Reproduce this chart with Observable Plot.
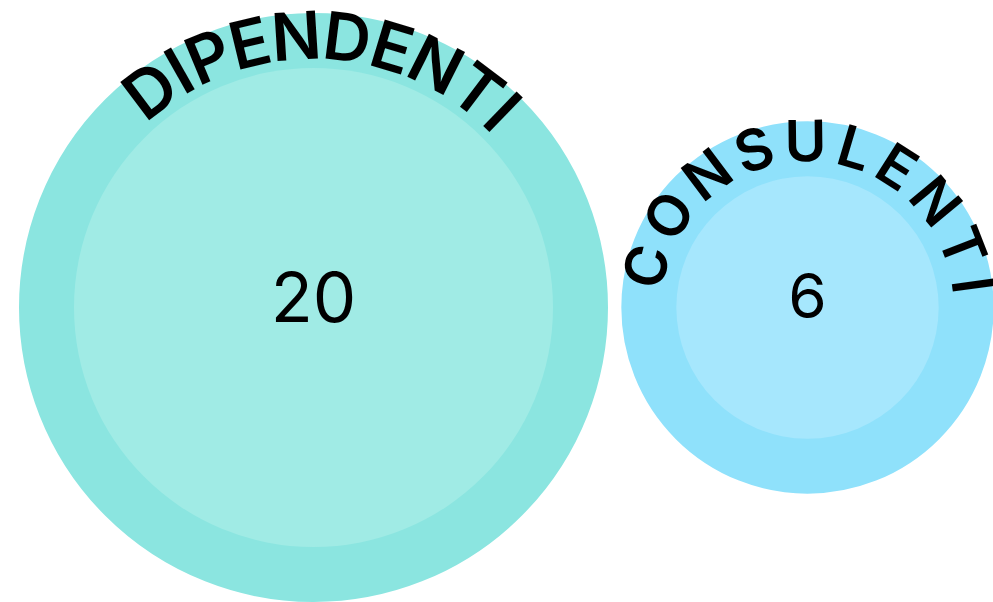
<!DOCTYPE html>
<html><head><meta charset="utf-8">
<script src="https://cdn.jsdelivr.net/npm/d3@7"></script>
<script src="https://cdn.jsdelivr.net/npm/@observablehq/plot@0.6"></script>
<style>html,body{margin:0;padding:0;background:#fff;} #chart svg{display:block;overflow:visible}</style>
</head><body><div id="chart"></div>
<script>
// ---- data ----
const categories = ["DIPENDENTI", "CONSULENTI"];
const values = [20, 6];
const outerColors = ["#8be5e0", "#8fe1fb"];
const innerColors = ["#a0ebe5", "#a6e7fd"];

const data = categories.map((name, i) => ({name, value: values[i], outer: outerColors[i], inner: innerColors[i]}));

// ---- layout / style ----
const W = 993, H = 602;
const band = 55;
const FONT = "Inter";
const labelStyle = [
  {fontSize: 66, weight: 600, span: 88, center: 2, numSize: 69, numDy: -8},
  {fontSize: 57, weight: 600, span: 168, center: 1, numSize: 62, numDy: -9}
];
const rScale = Plot.scale({r: {domain: [0, 20], range: [0, 239.5]}});

const ctx = document.createElement("canvas").getContext("2d");

const marks = [
  Plot.dot(data, {x: "name", r: "value", fill: "outer", stroke: "outer", strokeWidth: band * 2}),
  Plot.dot(data, {x: "name", r: "value", fill: "inner"})
];

data.forEach((d, i) => {
  const st = labelStyle[i];
  marks.push(Plot.text([d], {
    x: "name", text: e => String(e.value), fontSize: st.numSize, fontWeight: 400,
    lineAnchor: "middle", textAnchor: "middle", dy: st.numDy, fill: "black"
  }));
  // letters along the ring
  const rOuter = rScale.apply(d.value) + band;
  const cap = st.fontSize * 0.727;
  const rMid = rOuter - cap / 2 - 1;
  ctx.font = `${st.weight} ${st.fontSize}px ${FONT}`;
  const letters = Array.from(d.name);
  const widths = letters.map(c => ctx.measureText(c).width);
  const total = d3.sum(widths);
  const S = st.span * Math.PI / 180 * rMid;
  const spacing = (S - total) / (letters.length - 1);
  let pos = 0;
  letters.forEach((ch, j) => {
    const s = pos + widths[j] / 2 - S / 2;
    pos += widths[j] + spacing;
    const th = st.center * Math.PI / 180 + s / rMid;
    marks.push(Plot.text([d], {
      x: "name", text: () => ch,
      fontSize: st.fontSize, fontWeight: st.weight,
      lineAnchor: "middle", textAnchor: "middle",
      rotate: th * 180 / Math.PI,
      dx: rMid * Math.sin(th), dy: -rMid * Math.cos(th),
      fill: "black"
    }));
  });
});

const chart = Plot.plot({
  width: W, height: H,
  marginTop: 12, marginBottom: 0, marginLeft: 0, marginRight: 0,
  x: {type: "point", domain: categories, range: [313, 807.5], padding: 0, align: 0.5, axis: null},
  r: {domain: [0, 20], range: [0, 239.5]},
  color: {type: "identity"},
  style: {fontFamily: FONT, background: "white", overflow: "visible"},
  marks
});
document.getElementById("chart").appendChild(chart);
</script>
</body></html>
